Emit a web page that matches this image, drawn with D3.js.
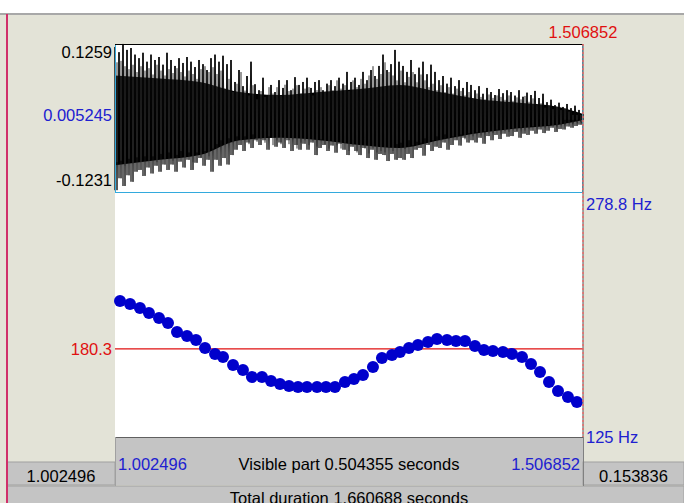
<!DOCTYPE html>
<html>
<head>
<meta charset="utf-8">
<script src="https://cdnjs.cloudflare.com/ajax/libs/d3/7.8.5/d3.min.js"></script>
<style>
	body { margin: 0; background: #fff; }
	text { font-family: "Liberation Sans", Arial, sans-serif; font-size: 16.5px; }
</style>
</head>
<body>
<div id="svg-div"></div>
<script>
// visible window and ranges
var timeRange = [1.002496, 1.506852];
var ampRange = [-0.1231, 0.1259];
var ampMid = 0.005245;
var pitchRange = [125, 278.8];
var pitchRef = 180.3;
var cursorTime = 1.506852;

// pitch track (seconds, Hz)
var pitchTimes = [1.0079, 1.0187, 1.0294, 1.0391, 1.0499, 1.0596, 1.0693, 1.0801, 1.0898, 1.0995,
	1.1103, 1.1189, 1.1297, 1.1404, 1.1501, 1.1609, 1.1706, 1.1803, 1.1900, 1.1997,
	1.2094, 1.2202, 1.2299, 1.2396, 1.2503, 1.2600, 1.2697, 1.2805, 1.2902, 1.3010,
	1.3096, 1.3193, 1.3290, 1.3398, 1.3495, 1.3603, 1.3700, 1.3797, 1.3904, 1.4001,
	1.4098, 1.4206, 1.4303, 1.4411, 1.4508, 1.4605, 1.4702, 1.4799, 1.4906, 1.5003];
var pitchHz = [210.4, 208.5, 206.0, 202.8, 199.7, 196.6, 190.9, 188.4, 185.9, 180.9,
	177.1, 175.2, 170.2, 167.1, 162.7, 162.7, 160.2, 158.3, 157.0, 156.4,
	156.4, 156.4, 156.4, 156.4, 159.5, 161.4, 163.9, 168.9, 174.6, 176.5,
	178.4, 180.9, 182.8, 184.6, 186.5, 185.9, 185.3, 185.3, 182.1, 179.6,
	179.0, 178.4, 177.1, 175.2, 170.8, 165.8, 159.5, 153.9, 150.1, 147.0];

// waveform peaks per bin (max / min amplitude), evenly spaced over the window
var wavePeakMax = [0.121, 0.112, 0.126, 0.116, 0.119, 0.108,
	0.102, 0.111, 0.096, 0.108, 0.099, 0.104, 0.091, 0.111,
	0.099, 0.089, 0.102, 0.094, 0.104, 0.096, 0.087, 0.099, 0.092, 0.082, 0.102,
	0.108, 0.096, 0.106, 0.092, 0.099,
	0.062, 0.082, 0.055, 0.072, 0.096, 0.058,
	0.048, 0.069, 0.040, 0.057, 0.045, 0.065,
	0.052, 0.065, 0.048, 0.070, 0.057, 0.062,
	0.069, 0.052, 0.062, 0.065, 0.048, 0.059,
	0.065, 0.055, 0.069, 0.059, 0.079, 0.062,
	0.069, 0.057, 0.079, 0.065, 0.082, 0.072, 0.089,
	0.108, 0.082, 0.092, 0.116, 0.096,
	0.089, 0.079, 0.099, 0.075, 0.086, 0.096, 0.075, 0.091, 0.079,
	0.065, 0.072, 0.059, 0.069, 0.055, 0.065, 0.052, 0.062, 0.057,
	0.048, 0.055, 0.042, 0.052, 0.045, 0.040, 0.050, 0.043, 0.048,
	0.045, 0.039, 0.048, 0.037, 0.044, 0.040, 0.047, 0.035, 0.042,
	0.028, 0.032, 0.023, 0.027, 0.020, 0.025, 0.018, 0.022, 0.015, 0.008];
var wavePeakMin = [-0.120, -0.100, -0.113, -0.095, -0.106, -0.089,
	-0.086, -0.096, -0.082, -0.092, -0.079, -0.089, -0.077, -0.086,
	-0.077, -0.089, -0.072, -0.082, -0.069, -0.086, -0.074, -0.066, -0.079, -0.069, -0.089,
	-0.069, -0.079, -0.066, -0.077, -0.061,
	-0.052, -0.044, -0.054, -0.040, -0.049, -0.036,
	-0.044, -0.036, -0.052, -0.032, -0.047, -0.040,
	-0.049, -0.036, -0.054, -0.044, -0.052, -0.042,
	-0.052, -0.040, -0.061, -0.049, -0.044, -0.054,
	-0.045, -0.057, -0.042, -0.052, -0.061, -0.047,
	-0.054, -0.061, -0.049, -0.066, -0.052, -0.069, -0.059,
	-0.061, -0.071, -0.059, -0.069, -0.066,
	-0.069, -0.059, -0.066, -0.052, -0.049, -0.062, -0.044, -0.054, -0.047,
	-0.049, -0.040, -0.052, -0.044, -0.036, -0.045, -0.032, -0.040, -0.036,
	-0.040, -0.032, -0.042, -0.029, -0.036, -0.027, -0.034, -0.025, -0.030,
	-0.029, -0.022, -0.032, -0.025, -0.027, -0.020, -0.025, -0.018, -0.024,
	-0.020, -0.015, -0.022, -0.017, -0.018, -0.013, -0.015, -0.012, -0.010, -0.002];

// dense core of the waveform
var coreTimes = [1.0025, 1.051, 1.094, 1.137, 1.180, 1.223, 1.266, 1.309, 1.352, 1.395, 1.438, 1.481, 1.5069];
var coreMax = [0.073, 0.068, 0.062, 0.045, 0.040, 0.045, 0.050, 0.057, 0.045, 0.033, 0.027, 0.020, 0.008];
var coreMin = [-0.078, -0.069, -0.061, -0.036, -0.032, -0.036, -0.044, -0.049, -0.036, -0.024, -0.016, -0.010, -0.002];

// texts
var leftBoxLabel = "1.002496";
var rightBoxLabel = "0.153836";
var visibleLabel = "Visible part 0.504355 seconds";
var totalLabel = "Total duration 1.660688 seconds";

var W = 684, H = 503;
var plot = { left: 115, right: 583, waveTop: 44, waveBottom: 192, pitchBottom: 437 };

var svg = d3.select("#svg-div")
	.append("svg")
	.attr("width", W)
	.attr("height", H);

// background
svg.append("rect").attr("x", 0).attr("y", 0).attr("width", W).attr("height", H).attr("fill", "#e3e3d7");
svg.append("rect").attr("x", 0).attr("y", 0).attr("width", W).attr("height", 13).attr("fill", "#ffffff");
svg.append("line").attr("x1", 0).attr("x2", W).attr("y1", 14).attr("y2", 14)
	.attr("stroke", "#a8a8a8").attr("stroke-width", 2);

// Scales
var xScale = d3.scaleLinear().domain(timeRange).range([plot.left, plot.right]);
var yWave = d3.scaleLinear().domain(ampRange).range([plot.waveBottom, plot.waveTop]);
var yPitch = d3.scaleLinear().domain(pitchRange).range([plot.pitchBottom, plot.waveBottom]);

// white drawing area
svg.append("rect")
	.attr("x", plot.left).attr("y", plot.waveTop)
	.attr("width", plot.right - plot.left)
	.attr("height", plot.pitchBottom - plot.waveTop)
	.attr("fill", "#ffffff");

// Waveform
var nBins = wavePeakMax.length;
var binScale = d3.scaleLinear().domain([0, nBins - 1]).range(timeRange);
var wave = svg.append("g");

wave.append("path")
	.datum(coreTimes.map(function(t, i) { return { t: t, hi: coreMax[i], lo: coreMin[i] }; }))
	.attr("fill", "#000")
	.attr("d", d3.area()
		.x(function(d) { return xScale(d.t); })
		.y0(function(d) { return yWave(d.lo); })
		.y1(function(d) { return yWave(d.hi); })
		.curve(d3.curveMonotoneX));

// spikes: one stroke from min to max per bin, plus a zigzag between them
var zig = [];
wavePeakMax.forEach(function(v, i) {
	zig.push([xScale(binScale(i)), yWave(v)]);
	zig.push([xScale(binScale(Math.min(i + 0.5, nBins - 1))), yWave(wavePeakMin[i])]);
});
wave.append("path")
	.attr("d", d3.line()(zig))
	.attr("fill", "none")
	.attr("stroke", "#111")
	.attr("stroke-width", 0.9);

wave.selectAll("line.peak")
	.data(wavePeakMax)
	.enter()
	.append("line")
	.attr("class", "peak")
	.attr("x1", function(d, i) { return xScale(binScale(i)); })
	.attr("x2", function(d, i) { return xScale(binScale(i)); })
	.attr("y1", function(d) { return yWave(d); })
	.attr("y2", function(d, i) { return yWave(wavePeakMin[i]); })
	.attr("stroke", "#000")
	.attr("stroke-width", 1.2);

// shorter in-between strokes borrowed from neighbouring bins
wave.selectAll("line.inner")
	.data(wavePeakMax.slice(0, nBins - 1))
	.enter()
	.append("line")
	.attr("class", "inner")
	.attr("x1", function(d, i) { return xScale(binScale(i + 0.5)); })
	.attr("x2", function(d, i) { return xScale(binScale(i + 0.5)); })
	.attr("y1", function(d, i) { return yWave(wavePeakMax[Math.min(i + 3, nBins - 1)] * 0.82); })
	.attr("y2", function(d, i) { return yWave(wavePeakMin[Math.min(i + 5, nBins - 1)] * 0.82); })
	.attr("stroke", "#333")
	.attr("stroke-width", 1);

// waveform frame
svg.append("rect")
	.attr("x", plot.left + 0.5).attr("y", plot.waveTop + 0.5)
	.attr("width", plot.right - plot.left - 1)
	.attr("height", plot.waveBottom - plot.waveTop)
	.attr("fill", "none")
	.attr("stroke", "#33aadd");
svg.append("line")
	.attr("x1", plot.left).attr("x2", plot.right)
	.attr("y1", plot.waveTop + 0.5).attr("y2", plot.waveTop + 0.5)
	.attr("stroke", "#000");

// pitch reference line
svg.append("line")
	.attr("x1", plot.left).attr("x2", plot.right)
	.attr("y1", yPitch(pitchRef)).attr("y2", yPitch(pitchRef))
	.attr("stroke", "#e01010").attr("stroke-width", 1.3);

// pitch dots
svg.selectAll("circle.pitch")
	.data(pitchHz)
	.enter()
	.append("circle")
	.attr("class", "pitch")
	.attr("cx", function(d, i) { return xScale(pitchTimes[i]); })
	.attr("cy", function(d) { return yPitch(d); })
	.attr("r", 6)
	.attr("fill", "#0000cc");

// bottom bars
svg.append("rect").attr("x", plot.left).attr("y", plot.pitchBottom)
	.attr("width", plot.right - plot.left).attr("height", 48)
	.attr("fill", "#c4c4c4");
svg.append("line").attr("x1", plot.left).attr("x2", plot.right)
	.attr("y1", plot.pitchBottom + 0.5).attr("y2", plot.pitchBottom + 0.5)
	.attr("stroke", "#606060");
svg.append("rect").attr("x", 7).attr("y", 462).attr("width", plot.left - 7).attr("height", 23)
	.attr("fill", "#c4c4c4").attr("stroke", "#a0a0a0");
svg.append("rect").attr("x", plot.right).attr("y", 462).attr("width", W - plot.right).attr("height", 23)
	.attr("fill", "#c4c4c4").attr("stroke", "#a0a0a0");
svg.append("rect").attr("x", 7).attr("y", 486).attr("width", W - 7).attr("height", 20)
	.attr("fill", "#c4c4c4").attr("stroke", "#a0a0a0");
svg.append("line").attr("x1", plot.left + 0.5).attr("x2", plot.left + 0.5)
	.attr("y1", plot.pitchBottom).attr("y2", 486).attr("stroke", "#a0a0a0");
svg.append("line").attr("x1", plot.right + 0.5).attr("x2", plot.right + 0.5)
	.attr("y1", plot.pitchBottom).attr("y2", 486).attr("stroke", "#808080");

// cursor
svg.append("line")
	.attr("x1", xScale(cursorTime)).attr("x2", xScale(cursorTime))
	.attr("y1", plot.waveTop).attr("y2", plot.pitchBottom)
	.attr("stroke", "#707070").attr("stroke-width", 1.2);
svg.append("line")
	.attr("x1", xScale(cursorTime)).attr("x2", xScale(cursorTime))
	.attr("y1", plot.waveTop).attr("y2", plot.pitchBottom)
	.attr("stroke", "#ff6060").attr("stroke-width", 1.2)
	.attr("stroke-dasharray", "2,2");

// left magenta border
svg.append("line").attr("x1", 7).attr("x2", 7).attr("y1", 14).attr("y2", H)
	.attr("stroke", "#d0306a").attr("stroke-width", 2);

// Labels
function label(txt, x, y, anchor, color) {
	svg.append("text")
		.attr("x", x).attr("y", y)
		.attr("text-anchor", anchor)
		.attr("fill", color)
		.text(txt);
}
label(String(ampRange[1]), plot.left - 3, yWave(ampRange[1]) + 14, "end", "#000");
label(String(ampMid), plot.left - 3, yWave(ampMid) + 5.5, "end", "#2020d0");
label(String(ampRange[0]), plot.left - 3, yWave(ampRange[0]) - 6, "end", "#000");
label(String(pitchRef), plot.left - 3, yPitch(pitchRef) + 6, "end", "#e01010");
label(pitchRange[1] + " Hz", plot.right + 3, yPitch(pitchRange[1]) + 18, "start", "#2020d0");
label(pitchRange[0] + " Hz", plot.right + 3, yPitch(pitchRange[0]) + 6, "start", "#2020d0");
label(cursorTime.toFixed(6), xScale(cursorTime), 38, "middle", "#e01010");
label(timeRange[0].toFixed(6), plot.left + 3, 470, "start", "#2020d0");
label(timeRange[1].toFixed(6), plot.right - 3, 470, "end", "#2020d0");
label(visibleLabel, (plot.left + plot.right) / 2, 470, "middle", "#000");
label(leftBoxLabel, (7 + plot.left) / 2, 482, "middle", "#000");
label(rightBoxLabel, (plot.right + W) / 2, 482, "middle", "#000");
label(totalLabel, (plot.left + plot.right) / 2, 504, "middle", "#000");
</script>
</body>
</html>
